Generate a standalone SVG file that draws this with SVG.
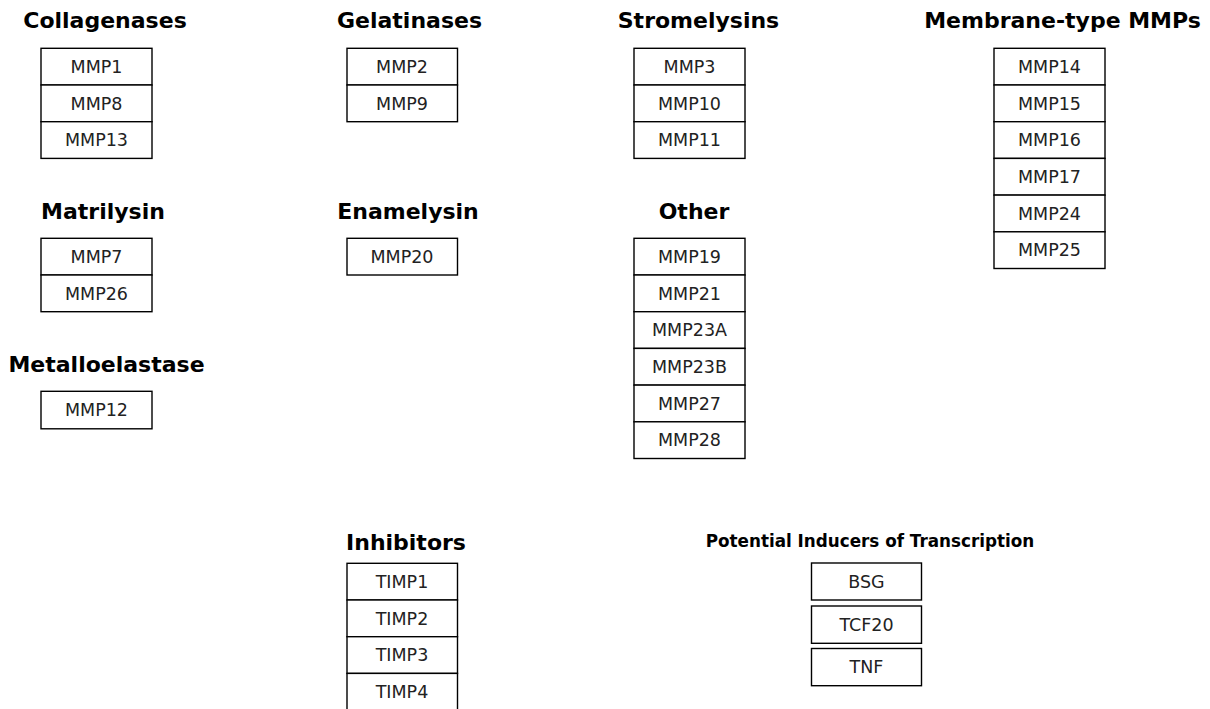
<svg xmlns="http://www.w3.org/2000/svg" width="1210" height="709" viewBox="0 0 1210 709">
<style>
.bg{fill:#fff}
.box{fill:#fff;stroke:#000;stroke-width:1.4}
.t{font-family:"DejaVu Sans",sans-serif;font-size:17.5px;fill:#222;text-anchor:middle}
.h{font-family:"DejaVu Sans",sans-serif;font-size:22px;font-weight:bold;fill:#000;text-anchor:middle}
.hs{font-family:"DejaVu Sans",sans-serif;font-size:16.8px;font-weight:bold;fill:#000;text-anchor:middle}
</style>
<rect class="bg" x="0" y="0" width="1210" height="709"/>
<g id="collagenases">
<text class="h" x="105" y="27.5">Collagenases</text>
<rect class="box" x="41" y="48.3" width="111" height="36.7"/><text class="t" x="96.5" y="72.8">MMP1</text>
<rect class="box" x="41" y="85" width="111" height="36.7"/><text class="t" x="96.5" y="109.5">MMP8</text>
<rect class="box" x="41" y="121.7" width="111" height="36.7"/><text class="t" x="96.5" y="146.2">MMP13</text>
</g>
<g id="gelatinases">
<text class="h" x="409.5" y="27.5">Gelatinases</text>
<rect class="box" x="347" y="48.3" width="110.5" height="36.7"/><text class="t" x="402" y="72.8">MMP2</text>
<rect class="box" x="347" y="85" width="110.5" height="36.7"/><text class="t" x="402" y="109.5">MMP9</text>
</g>
<g id="stromelysins">
<text class="h" x="698.5" y="27.5">Stromelysins</text>
<rect class="box" x="634" y="48.3" width="111" height="36.7"/><text class="t" x="689.5" y="72.8">MMP3</text>
<rect class="box" x="634" y="85" width="111" height="36.7"/><text class="t" x="689.5" y="109.5">MMP10</text>
<rect class="box" x="634" y="121.7" width="111" height="36.7"/><text class="t" x="689.5" y="146.2">MMP11</text>
</g>
<g id="membrane-type">
<text class="h" x="1062.5" y="27.5">Membrane-type MMPs</text>
<rect class="box" x="994" y="48.3" width="111" height="36.7"/><text class="t" x="1049.5" y="72.8">MMP14</text>
<rect class="box" x="994" y="85" width="111" height="36.7"/><text class="t" x="1049.5" y="109.5">MMP15</text>
<rect class="box" x="994" y="121.7" width="111" height="36.7"/><text class="t" x="1049.5" y="146.2">MMP16</text>
<rect class="box" x="994" y="158.4" width="111" height="36.7"/><text class="t" x="1049.5" y="182.9">MMP17</text>
<rect class="box" x="994" y="195.1" width="111" height="36.7"/><text class="t" x="1049.5" y="219.6">MMP24</text>
<rect class="box" x="994" y="231.8" width="111" height="36.7"/><text class="t" x="1049.5" y="256.3">MMP25</text>
</g>
<g id="matrilysin">
<text class="h" x="103" y="218.5">Matrilysin</text>
<rect class="box" x="41" y="238.3" width="111" height="36.7"/><text class="t" x="96.5" y="262.8">MMP7</text>
<rect class="box" x="41" y="275" width="111" height="36.7"/><text class="t" x="96.5" y="299.5">MMP26</text>
</g>
<g id="enamelysin">
<text class="h" x="408" y="218.5">Enamelysin</text>
<rect class="box" x="347" y="238.3" width="110.5" height="36.7"/><text class="t" x="402" y="262.8">MMP20</text>
</g>
<g id="other">
<text class="h" x="694" y="218.5">Other</text>
<rect class="box" x="634" y="238.3" width="111" height="36.7"/><text class="t" x="689.5" y="262.8">MMP19</text>
<rect class="box" x="634" y="275" width="111" height="36.7"/><text class="t" x="689.5" y="299.5">MMP21</text>
<rect class="box" x="634" y="311.7" width="111" height="36.7"/><text class="t" x="689.5" y="336.2">MMP23A</text>
<rect class="box" x="634" y="348.4" width="111" height="36.7"/><text class="t" x="689.5" y="372.9">MMP23B</text>
<rect class="box" x="634" y="385.1" width="111" height="36.7"/><text class="t" x="689.5" y="409.6">MMP27</text>
<rect class="box" x="634" y="421.8" width="111" height="36.7"/><text class="t" x="689.5" y="446.3">MMP28</text>
</g>
<g id="metalloelastase">
<text class="h" x="106.5" y="372">Metalloelastase</text>
<rect class="box" x="41" y="391.3" width="111" height="37.5"/><text class="t" x="96.5" y="416.2">MMP12</text>
</g>
<g id="inhibitors">
<text class="h" x="406" y="550">Inhibitors</text>
<rect class="box" x="347" y="563.3" width="110.5" height="36.7"/><text class="t" x="402" y="587.8">TIMP1</text>
<rect class="box" x="347" y="600" width="110.5" height="36.7"/><text class="t" x="402" y="624.5">TIMP2</text>
<rect class="box" x="347" y="636.7" width="110.5" height="36.7"/><text class="t" x="402" y="661.2">TIMP3</text>
<rect class="box" x="347" y="673.4" width="110.5" height="36.7"/><text class="t" x="402" y="697.9">TIMP4</text>
</g>
<g id="inducers">
<text class="hs" x="870" y="546.5">Potential Inducers of Transcription</text>
<rect class="box" x="811.5" y="563" width="110" height="37"/><text class="t" x="866.5" y="587.6">BSG</text>
<rect class="box" x="811.5" y="606" width="110" height="37.3"/><text class="t" x="866.5" y="630.7">TCF20</text>
<rect class="box" x="811.5" y="648.5" width="110" height="37.2"/><text class="t" x="866.5" y="673.2">TNF</text>
</g>
<g id="connectors"></g>
</svg>
